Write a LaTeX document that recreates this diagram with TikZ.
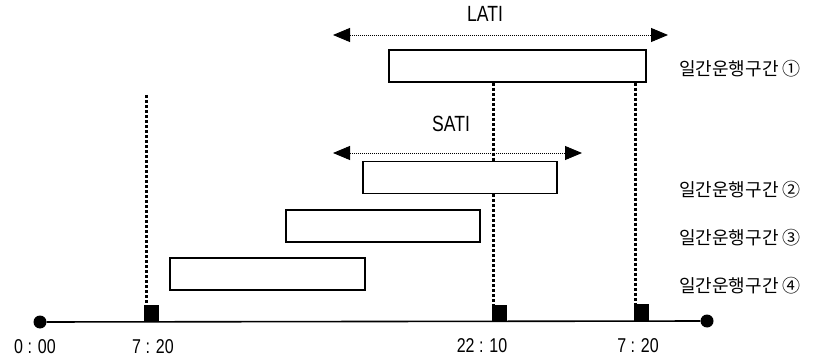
\documentclass[tikz,border=0pt]{standalone}
\usepackage{fontspec}
\usetikzlibrary{arrows.meta}
\newfontfamily\latfont[FakeStretch=0.8]{Liberation Sans}
\newfontfamily\krfont{Noto Sans CJK KR}
\tikzset{
  period/.style={draw=black, line width=1.5pt, fill=white, minimum height=32pt, inner sep=0pt},
  guide/.style={line width=3pt, dash pattern=on 2.8pt off 2.2pt},
  span/.style={line width=0.9pt, dash pattern=on 1pt off 1pt, {Triangle[length=17pt,width=14pt]}-{Triangle[length=17pt,width=14pt]}},
  tick/.style={fill=black, inner sep=0pt, minimum width=15pt, minimum height=17pt, anchor=south},
  endpt/.style={circle, fill=black, inner sep=0pt, minimum size=13pt},
  timelbl/.style={font=\latfont\fontsize{20}{20}\selectfont, inner sep=0pt},
  spanlbl/.style={font=\latfont\fontsize{22}{22}\selectfont, inner sep=0pt},
  krlbl/.style={font=\krfont\fontsize{18}{18}\selectfont, anchor=west, inner sep=0pt}
}
\begin{document}
\begin{tikzpicture}[x=1pt,y=-1pt]
  \useasboundingbox (0,0) rectangle (824,358);

  % time axis with end points
  \node[endpt] (t0) at (40,322) {};
  \node[endpt] (t1) at (707,321) {};
  \draw[line width=1.6pt] (t0) -- (t1);

  % tick markers on the axis
  \node[tick] (m1) at (151,322.5) {};
  \node[tick] (m2) at (499,322) {};
  \node[tick] (m3) at (641,321.5) {};

  % operating periods
  \node[period, minimum width=257pt] (p1) at (517.5,66) {};
  \node[period, minimum width=194pt] (p2) at (460,177.5) {};
  \node[period, minimum width=194pt] (p3) at (383,226) {};
  \node[period, minimum width=195pt] (p4) at (267.5,274) {};

  % dotted guides down to the axis
  \coordinate (g1) at (146,95);
  \draw[guide] (g1) -- (m1.north west -| g1);
  \draw[guide] (p1.south -| m2.west) ++(2,0) coordinate (g2) -- (p2.north -| g2);
  \draw[guide] (p2.south -| g2) -- (m2.north -| g2);
  \draw[guide] (p1.south -| m3.west) ++(2,0) coordinate (g3) -- (m3.north -| g3);

  % LATI and SATI spans
  \coordinate (la) at (333,35);
  \coordinate (lb) at (668,35);
  \draw[span] (la) -- (lb);
  \node[spanlbl] (lati) at (485,14) {LATI};
  \coordinate (sa) at (333,153);
  \coordinate (sb) at (582,153);
  \draw[span] (sa) -- (sb);
  \node[spanlbl] (sati) at (451,124) {SATI};

  % period labels
  \node[krlbl] (l1) at (679,69) {일간운행구간 ①};
  \node[krlbl] (l2) at (679,190) {일간운행구간 ②};
  \node[krlbl] (l3) at (679,238) {일간운행구간 ③};
  \node[krlbl] (l4) at (679,286) {일간운행구간 ④};

  % axis times
  \node[timelbl] (a0) at (35,347) {0 : 00};
  \node[timelbl] (a1) at (153,347) {7 : 20};
  \node[timelbl] (a2) at (482,346) {22 : 10};
  \node[timelbl] (a3) at (638,346) {7 : 20};
\end{tikzpicture}
\end{document}
